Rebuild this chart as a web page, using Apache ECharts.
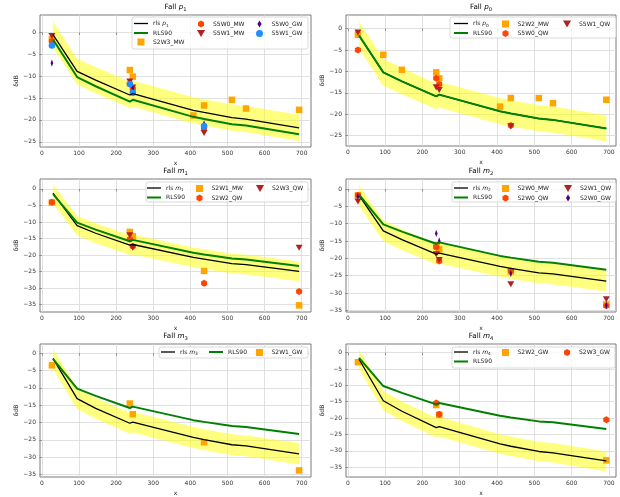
<!DOCTYPE html>
<html>
<head>
<meta charset="utf-8">
<title>Fall</title>
<script src="https://cdn.jsdelivr.net/npm/echarts@6/dist/echarts.min.js"></script>
<style>
  html, body { margin: 0; padding: 0; background: #fff; }
  #chart { width: 620px; height: 497px; }
</style>
</head>
<body>
<div id="chart"></div>
<script>
// x positions of the model curves
const xPts = [30, 95, 145, 237, 245, 408, 437, 512, 550, 693];
const rls90 = [-1.6, -10.2, -12.3, -15.8, -15.4, -19.3, -19.8, -21.0, -21.3, -23.3];

// rls curves and their yellow bands, one per panel
const rlsP1 = [-0.5, -8.9, -10.9, -14.3, -14.0, -17.8, -18.3, -19.5, -19.8, -21.8];
const bandHiP1 = [2.6, -6.0, -7.9, -11.3, -11.0, -14.8, -15.3, -16.5, -16.8, -18.8];
const bandLoP1 = [-3.4, -11.9, -13.9, -17.3, -17.0, -20.8, -21.3, -22.5, -22.8, -24.8];

const rlsP0 = [-1.6, -10.2, -12.3, -15.8, -15.4, -19.3, -19.8, -21.0, -21.3, -23.3];
const bandHiP0 = [1.7, -7.0, -9.2, -12.8, -12.4, -16.2, -16.7, -17.9, -18.2, -20.2];
const bandLoP0 = [-4.6, -13.3, -15.3, -18.8, -18.4, -22.3, -22.8, -24.0, -24.3, -26.3];

const rlsM1 = [-1.3, -11.1, -13.4, -17.0, -16.8, -20.7, -21.2, -22.6, -22.9, -24.9];
const bandHiM1 = [1.4, -8.1, -10.4, -14.0, -13.8, -17.7, -18.2, -19.6, -19.9, -21.9];
const bandLoM1 = [-4.3, -14.1, -16.4, -20.0, -19.8, -23.7, -24.2, -25.6, -25.9, -27.9];

const rlsM2 = [-1.8, -12.1, -14.6, -18.8, -18.5, -22.3, -22.9, -24.2, -24.5, -26.6];
const bandHiM2 = [1.2, -9.1, -11.6, -15.8, -15.5, -19.3, -19.9, -21.2, -21.5, -23.6];
const bandLoM2 = [-4.8, -15.1, -17.6, -21.8, -21.5, -25.3, -25.9, -27.2, -27.5, -29.6];

const rlsM3 = [-1.5, -13.1, -15.9, -20.2, -19.9, -24.3, -24.9, -26.4, -26.7, -29.0];
const bandHiM3 = [1.3, -10.1, -12.9, -17.2, -16.9, -21.3, -21.9, -23.4, -23.7, -25.9];
const bandLoM3 = [-4.5, -16.1, -18.9, -23.2, -22.9, -27.3, -27.9, -29.4, -29.7, -32.1];

const rlsM4 = [-2.0, -14.7, -17.9, -22.9, -22.6, -27.9, -28.6, -30.2, -30.6, -33.1];
const bandHiM4 = [1.0, -11.7, -14.9, -19.9, -19.6, -24.9, -25.6, -27.2, -27.6, -30.2];
const bandLoM4 = [-5.0, -17.7, -20.9, -25.9, -25.6, -30.9, -31.6, -33.2, -33.6, -36.3];

// measurements [x, dB]
const p1S2W3MW = [[27, -1.5], [237, -8.6], [245, -10.1], [408, -19.0], [437, -16.7], [512, -15.4], [550, -17.4], [693, -17.7]];
const p1S5W0MW = [[27, -2.0], [237, -11.8], [245, -12.9], [437, -21.9]];
const p1S5W1MW = [[27, -0.8], [237, -11.2], [245, -12.6], [437, -23.0]];
const p1S5W0GW = [[27, -7.0], [237, -11.6], [245, -12.8], [437, -20.9]];
const p1S5W1GW = [[27, -3.0], [237, -11.8], [245, -13.8], [437, -21.4]];

const p0S2W2MW = [[27, -1.4], [95, -6.1], [145, -9.6], [237, -10.2], [245, -11.6], [408, -18.2], [437, -16.2], [512, -16.2], [550, -17.4], [693, -16.6]];
const p0S5W0QW = [[27, -5.0], [237, -11.6], [245, -13.0], [437, -22.6]];
const p0S5W1QW = [[27, -0.9], [237, -13.7], [245, -14.3], [437, -22.8]];

const m1S2W1MW = [[27, -4.1], [237, -13.0], [245, -14.3], [437, -24.8], [693, -35.2]];
const m1S2W2QW = [[27, -4.0], [237, -15.2], [245, -17.3], [437, -28.5], [693, -31.0]];
const m1S2W3QW = [[237, -14.0], [245, -17.8], [693, -17.8]];

const m2S2W0MW = [[27, -1.8], [237, -16.2], [245, -17.4], [437, -23.8], [693, -33.3]];
const m2S2W0QW = [[27, -1.8], [237, -16.8], [245, -20.8], [437, -23.6], [693, -33.7]];
const m2S2W1QW = [[27, -3.6], [237, -18.8], [245, -20.5], [437, -27.5], [693, -31.8]];
const m2S2W0GW = [[27, -2.1], [237, -12.8], [245, -15.0], [437, -24.4], [693, -33.6]];

const m3S2W1GW = [[27, -3.5], [237, -14.5], [245, -17.6], [437, -25.7], [693, -33.8]];

const m4S2W2GW = [[27, -2.9], [237, -16.0], [245, -19.0], [693, -32.9]];
const m4S2W3GW = [[237, -15.4], [245, -18.8], [693, -20.5]];

// tick labels
const xTicks = [0, 100, 200, 300, 400, 500, 600, 700];
const yTicks25 = [0, -5, -10, -15, -20, -25];
const yTicks35 = [0, -5, -10, -15, -20, -25, -30, -35];

const FONT = 'DejaVu Sans';
const FRAME = '#7a7a7a';
const GRIDLINE = '#d8d8d8';

// marker styles (matplotlib look)
const MK = {
  sq: { symbol: 'path://M0,0H10V10H0Z', size: 6.5, color: '#FFA500' },
  hex: { symbol: 'path://M5,0L9.33,2.5L9.33,7.5L5,10L0.67,7.5L0.67,2.5Z', size: 7, color: '#FF4500' },
  tri: { symbol: 'path://M0,0L10,0L5,8.66Z', size: 7, color: '#B22222' },
  dia: { symbol: 'path://M3,0L6,5L3,10L0,5Z', size: [4.4, 7.4], color: '#4B0082' },
  cir: { symbol: 'path://M0,5A5,5,0,1,0,10,5A5,5,0,1,0,0,5Z', size: 6.5, color: '#1E90FF' }
};

// legend handles for the two curves
const LINE_ICON_BLACK = 'path://M0,0H14V1.3H0Z';
const LINE_ICON_GREEN = 'path://M0,0H14V2H0Z';

const panels = [
  {
    sym: 'p', sub: '1', rls: rlsP1, hi: bandHiP1, lo: bandLoP1,
    grid: { left: 40, top: 15, width: 271, height: 132 }, x: [-5, 725], y: [-26.2, 4], yTicks: yTicks25,
    marks: [['S2W3_MW', p1S2W3MW, 'sq'], ['S5W0_MW', p1S5W0MW, 'hex'], ['S5W1_MW', p1S5W1MW, 'tri'],
            ['S5W0_GW', p1S5W0GW, 'dia'], ['S5W1_GW', p1S5W1GW, 'cir']],
    cols: [[0, 1, 2], [3, 4], [5, 6]], colLeft: [134, 197, 256], legTop: 20.5, box: [132, 17, 176, 32]
  },
  {
    sym: 'p', sub: '0', rls: rlsP0, hi: bandHiP0, lo: bandLoP0,
    grid: { left: 346, top: 15, width: 270, height: 131 }, x: [-5, 719], y: [-27.4, 3.2], yTicks: yTicks25,
    marks: [['S2W2_MW', p0S2W2MW, 'sq'], ['S5W0_QW', p0S5W0QW, 'hex'], ['S5W1_QW', p0S5W1QW, 'tri']],
    cols: [[0, 1], [2, 3], [4]], colLeft: [454, 502, 563], legTop: 20.5, box: [450, 17, 166, 21]
  },
  {
    sym: 'm', sub: '1', rls: rlsM1, hi: bandHiM1, lo: bandLoM1,
    grid: { left: 40, top: 179, width: 271, height: 133 }, x: [-5, 725], y: [-37.2, 3.0], yTicks: yTicks35,
    marks: [['S2W1_MW', m1S2W1MW, 'sq'], ['S2W2_QW', m1S2W2QW, 'hex'], ['S2W3_QW', m1S2W3QW, 'tri']],
    cols: [[0, 1], [2, 3], [4]], colLeft: [147, 196, 256], legTop: 185, box: [146, 182, 162, 20]
  },
  {
    sym: 'm', sub: '2', rls: rlsM2, hi: bandHiM2, lo: bandLoM2,
    grid: { left: 346, top: 179, width: 270, height: 133 }, x: [-5, 719], y: [-35.5, 2.9], yTicks: yTicks35,
    marks: [['S2W0_MW', m2S2W0MW, 'sq'], ['S2W0_QW', m2S2W0QW, 'hex'], ['S2W1_QW', m2S2W1QW, 'tri'],
            ['S2W0_GW', m2S2W0GW, 'dia']],
    cols: [[0, 1], [2, 3], [4, 5]], colLeft: [454, 502, 564], legTop: 185, box: [452, 182, 164, 20]
  },
  {
    sym: 'm', sub: '3', rls: rlsM3, hi: bandHiM3, lo: bandLoM3,
    grid: { left: 40, top: 344, width: 271, height: 134 }, x: [-5, 725], y: [-35.7, 2.66], yTicks: yTicks35,
    marks: [['S2W1_GW', m3S2W1GW, 'sq']],
    cols: [[0], [1], [2]], colLeft: [161, 209, 256], legTop: 349, box: [159, 347, 149, 11]
  },
  {
    sym: 'm', sub: '4', rls: rlsM4, hi: bandHiM4, lo: bandLoM4,
    grid: { left: 346, top: 344, width: 270, height: 133 }, x: [-5, 719], y: [-38, 2.65], yTicks: yTicks35,
    marks: [['S2W2_GW', m4S2W2GW, 'sq'], ['S2W3_GW', m4S2W3GW, 'hex']],
    cols: [[0, 1], [2], [3]], colLeft: [454, 502, 564], legTop: 349, box: [452, 347, 163, 21]
  }
];

function minus(v) {
  return v < 0 ? '\u2212' + (-v) : String(v);
}

const richSmall = {
  n: { fontSize: 6, fontFamily: FONT, lineHeight: 8, color: '#222' },
  i: { fontSize: 6, fontFamily: FONT, fontStyle: 'italic', lineHeight: 8, color: '#222' },
  s: { fontSize: 4.3, fontFamily: FONT, lineHeight: 4.3, verticalAlign: 'bottom', color: '#222' }
};
const richTitle = {
  n: { fontSize: 7.2, fontFamily: FONT, lineHeight: 10, color: '#222' },
  i: { fontSize: 7.2, fontFamily: FONT, fontStyle: 'italic', lineHeight: 10, color: '#222' },
  s: { fontSize: 5.2, fontFamily: FONT, lineHeight: 5.2, verticalAlign: 'bottom', color: '#222' }
};

const grids = [], xAxes = [], yAxes = [], series = [], legends = [], graphics = [];

panels.forEach((pn, k) => {
  grids.push(Object.assign({ show: true, borderColor: FRAME, borderWidth: 1, backgroundColor: 'transparent' }, pn.grid));

  xAxes.push({
    type: 'value', gridIndex: k, min: pn.x[0], max: pn.x[1], minInterval: 100, maxInterval: 100,
    name: 'x', nameLocation: 'middle', nameGap: 13,
    nameTextStyle: { fontSize: 6, fontFamily: FONT, color: '#222' },
    axisLine: { show: false },
    axisTick: { show: true, length: 2.5, customValues: xTicks, lineStyle: { color: FRAME, width: 0.8 } },
    axisLabel: { customValues: xTicks, fontSize: 6, fontFamily: FONT, color: '#333', margin: 3.5 },
    splitLine: { show: true, lineStyle: { color: GRIDLINE, width: 0.8 } }
  });
  yAxes.push({
    type: 'value', gridIndex: k, min: pn.y[0], max: pn.y[1], minInterval: 5, maxInterval: 5,
    name: '\u03b4dB', nameLocation: 'middle', nameGap: 19, nameRotate: 90,
    nameTextStyle: { fontSize: 6, fontFamily: FONT, color: '#222' },
    axisLine: { show: false },
    axisTick: { show: true, length: 2.5, customValues: pn.yTicks, lineStyle: { color: FRAME, width: 0.8 } },
    axisLabel: { customValues: pn.yTicks, fontSize: 6, fontFamily: FONT, color: '#333', margin: 4, formatter: minus },
    splitLine: { show: true, lineStyle: { color: GRIDLINE, width: 0.8 } }
  });

  // yellow band around the rls curve
  series.push({
    type: 'custom', xAxisIndex: k, yAxisIndex: k, silent: true, clip: true,
    data: xPts.map((x, i) => [x, pn.hi[i], pn.lo[i]]),
    encode: { x: 0, y: [1, 2] },
    renderItem: (params, api) => {
      if (params.dataIndex !== 0) return null;
      const top = xPts.map((x, i) => api.coord([x, pn.hi[i]]));
      const bot = xPts.map((x, i) => api.coord([x, pn.lo[i]])).reverse();
      return { type: 'polygon', shape: { points: top.concat(bot) }, style: { fill: 'rgba(255,255,0,0.5)' } };
    }
  });

  const rlsName = 'rls ' + pn.sym + pn.sub;
  series.push({
    name: rlsName, type: 'line', xAxisIndex: k, yAxisIndex: k, symbol: 'none',
    data: xPts.map((x, i) => [x, pn.rls[i]]),
    lineStyle: { color: '#000', width: 1.3 }, itemStyle: { color: '#000' }
  });
  series.push({
    name: 'RLS90', type: 'line', xAxisIndex: k, yAxisIndex: k, symbol: 'none',
    data: xPts.map((x, i) => [x, rls90[i]]),
    lineStyle: { color: '#008000', width: 2 }, itemStyle: { color: '#008000' }
  });

  const items = [{ name: rlsName, icon: LINE_ICON_BLACK }, { name: 'RLS90', icon: LINE_ICON_GREEN }];
  pn.marks.forEach(([name, pts, kind]) => {
    const m = MK[kind];
    items.push({ name });
    series.push({
      name, type: 'scatter', xAxisIndex: k, yAxisIndex: k, data: pts,
      symbol: m.symbol, symbolSize: m.size, symbolKeepAspect: true,
      itemStyle: { color: m.color, opacity: 1 }
    });
  });

  // legend frame
  const b = pn.box;
  graphics.push({
    type: 'rect', z: 3, shape: { x: b[0], y: b[1], width: b[2], height: b[3], r: 2 },
    style: { fill: 'rgba(255,255,255,0.8)', stroke: '#d0d0d0', lineWidth: 0.8 }
  });

  pn.cols.forEach((idx, c) => {
    const data = idx.filter(i => i < items.length).map(i => items[i]);
    if (!data.length) return;
    legends.push({
      data, orient: 'vertical', left: pn.colLeft[c], top: pn.legTop, padding: 0,
      itemWidth: 14, itemHeight: 7, itemGap: 2.5, symbolKeepAspect: true,
      selectedMode: false, z: 5,
      itemStyle: { borderWidth: 0 },
      textStyle: { fontSize: 6, fontFamily: FONT, color: '#222', rich: richSmall },
      formatter: name => name.indexOf('rls ') === 0
        ? '{n|rls }{i|' + name.charAt(4) + '}{s|' + name.charAt(5) + '}'
        : '{n|' + name + '}'
    });
  });

  // panel title
  graphics.push({
    type: 'text', x: pn.grid.left + pn.grid.width / 2, y: 7.5 + pn.grid.top - 15, z: 5,
    style: {
      text: '{n|Fall }{i|' + pn.sym + '}{s|' + pn.sub + '}',
      align: 'center', verticalAlign: 'middle', rich: richTitle
    }
  });
});

const chart = echarts.init(document.getElementById('chart'), null, { renderer: 'canvas' });
chart.setOption({
  animation: false,
  backgroundColor: '#fff',
  grid: grids,
  xAxis: xAxes,
  yAxis: yAxes,
  legend: legends,
  graphic: graphics,
  series
});
window.addEventListener('resize', () => chart.resize());
</script>
</body>
</html>
